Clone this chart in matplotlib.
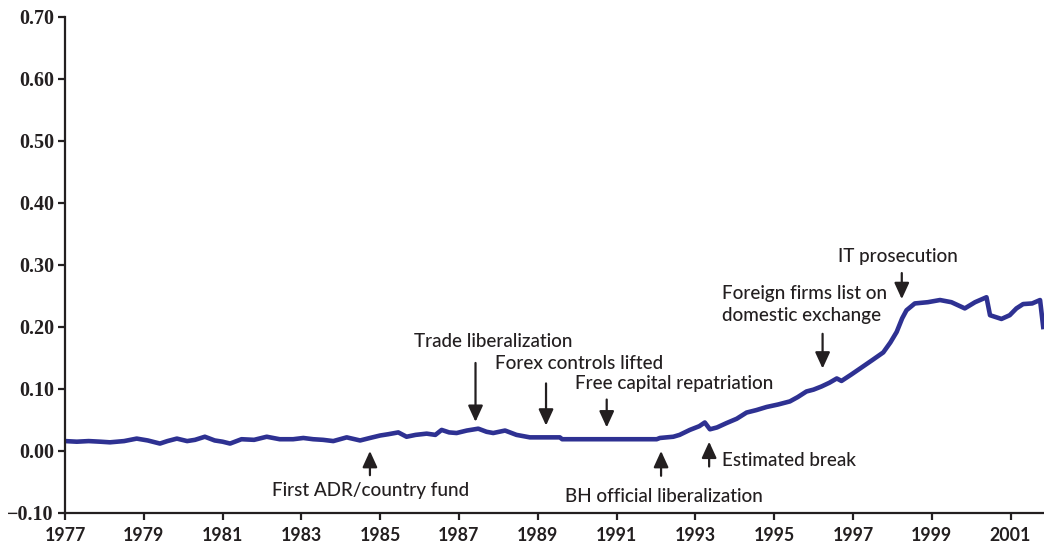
import matplotlib
matplotlib.use("Agg")
import matplotlib.pyplot as plt

# data
years = [1977.00, 1977.30, 1977.60, 1977.90, 1978.14, 1978.50, 1978.82, 1979.10, 1979.41, 1979.60,
         1979.84, 1980.10, 1980.30, 1980.55, 1980.80, 1981.00, 1981.19, 1981.48, 1981.80, 1982.12,
         1982.45, 1982.79, 1983.05, 1983.30, 1983.55, 1983.81, 1984.15, 1984.49, 1984.74, 1985.00,
         1985.20, 1985.46, 1985.67, 1985.90, 1986.18, 1986.40, 1986.56, 1986.75, 1986.94, 1987.20,
         1987.49, 1987.70, 1987.87, 1988.17, 1988.46, 1988.80, 1989.20, 1989.56, 1989.62, 1990.50,
         1991.50, 1992.02, 1992.10, 1992.44, 1992.60, 1992.86, 1993.10, 1993.24, 1993.37, 1993.55,
         1993.79, 1994.05, 1994.30, 1994.55, 1994.81, 1995.10, 1995.40, 1995.60, 1995.82, 1996.00,
         1996.20, 1996.40, 1996.59, 1996.71, 1996.95, 1997.18, 1997.50, 1997.77, 1997.95, 1998.11,
         1998.25, 1998.36, 1998.57, 1998.90, 1999.21, 1999.50, 1999.84, 2000.10, 2000.39, 2000.48,
         2000.77, 2000.98, 2001.15, 2001.32, 2001.55, 2001.75, 2001.83]
values = [0.016, 0.015, 0.016, 0.015, 0.014, 0.016, 0.020, 0.017, 0.012, 0.016,
          0.020, 0.016, 0.018, 0.023, 0.017, 0.015, 0.012, 0.019, 0.018, 0.023,
          0.019, 0.019, 0.021, 0.019, 0.018, 0.016, 0.022, 0.017, 0.021, 0.025,
          0.027, 0.030, 0.023, 0.026, 0.028, 0.026, 0.034, 0.030, 0.029, 0.033,
          0.036, 0.031, 0.029, 0.033, 0.026, 0.022, 0.022, 0.022, 0.019, 0.019,
          0.019, 0.019, 0.021, 0.023, 0.026, 0.034, 0.040, 0.046, 0.035, 0.038,
          0.045, 0.052, 0.062, 0.066, 0.071, 0.075, 0.080, 0.087, 0.096, 0.099,
          0.104, 0.110, 0.117, 0.113, 0.123, 0.133, 0.147, 0.159, 0.175, 0.192,
          0.214, 0.227, 0.238, 0.240, 0.2435, 0.240, 0.230, 0.240, 0.248, 0.219,
          0.213, 0.219, 0.230, 0.237, 0.238, 0.2435, 0.200]

xtick_years = list(range(1977, 2002, 2))
yticks = [-0.10, 0.00, 0.10, 0.20, 0.30, 0.40, 0.50, 0.60, 0.70]

# events: label, arrow x, arrow tail y, arrow tip y, text x, text y, alignment
events = [
    ("Trade liberalization", 1987.42, 0.142, 0.047, 1987.87, 0.176, "center"),
    ("Forex controls lifted", 1989.21, 0.109, 0.041, 1990.06, 0.141, "center"),
    ("Free capital repatriation", 1990.75, 0.083, 0.038, 1992.46, 0.109, "center"),
    ("IT prosecution", 1998.24, 0.287, 0.245, 1998.13, 0.313, "center"),
    ("First ADR/country fund", 1984.74, -0.039, 0.0, 1984.75, -0.064, "center"),
    ("BH official liberalization", 1992.13, -0.040, 0.0, 1992.20, -0.0737, "center"),
    ("Estimated break", 1993.35, -0.025, 0.015, 1993.67, -0.0156, "left"),
]
foreign_label = ["Foreign firms list on", "domestic exchange"]
foreign_arrow = (1996.23, 0.189, 0.133)

line_color = "#2E3192"
text_color = "#231F20"
label_size = 13.6

fig = plt.figure(figsize=(10.44, 5.42), dpi=100)
ax = fig.add_axes([65 / 1044, 1 - 513 / 542, (1044 - 65) / 1044, (513 - 17) / 542])

ax.plot(years, values, color=line_color, lw=3.3, solid_joinstyle="round")

ax.set_xlim(1977, 2001.85)
ax.set_ylim(-0.10, 0.70)
ax.set_xticks(xtick_years)
ax.set_xticklabels([str(y) for y in xtick_years])
ax.set_yticks(yticks)
ax.set_yticklabels([f"{v:.2f}".replace("-", "\u2212") for v in yticks])

for side in ["top", "right"]:
    ax.spines[side].set_visible(False)
for side in ["left", "bottom"]:
    ax.spines[side].set_linewidth(1.6)
    ax.spines[side].set_color(text_color)
ax.tick_params(direction="out", length=5, width=1.6, color=text_color)
ax.tick_params(axis="x", pad=5)
ax.tick_params(axis="y", pad=3)

# y labels: bold serif, x labels: heavy sans
for lab in ax.get_yticklabels():
    lab.set_family("Liberation Serif")
    lab.set_fontweight("bold")
    lab.set_fontsize(14.5)
    lab.set_color(text_color)
for lab in ax.get_xticklabels():
    lab.set_family("Lato")
    lab.set_fontweight("bold")
    lab.set_fontsize(12.8)
    lab.set_color(text_color)

arrow_kw = dict(arrowstyle="-|>,head_length=0.7,head_width=0.32", color=text_color,
                lw=1.6, shrinkA=0, shrinkB=0, mutation_scale=14)

for label, ax_x, tail, tip, tx, ty, ha in events:
    ax.annotate("", xy=(ax_x, tip), xytext=(ax_x, tail), arrowprops=arrow_kw)
    ax.text(tx, ty, label, ha=ha, va="center", fontsize=label_size, family="Lato",
            fontweight="medium", color=text_color)

fx, ftail, ftip = foreign_arrow
ax.annotate("", xy=(fx, ftip), xytext=(fx, ftail), arrowprops=arrow_kw)
ax.text(1993.67, 0.254, foreign_label[0], ha="left", va="center", fontsize=label_size,
        family="Lato", fontweight="medium", color=text_color)
ax.text(1993.67, 0.218, foreign_label[1], ha="left", va="center", fontsize=label_size,
        family="Lato", fontweight="medium", color=text_color)

fig.savefig("out.png", dpi=100)
